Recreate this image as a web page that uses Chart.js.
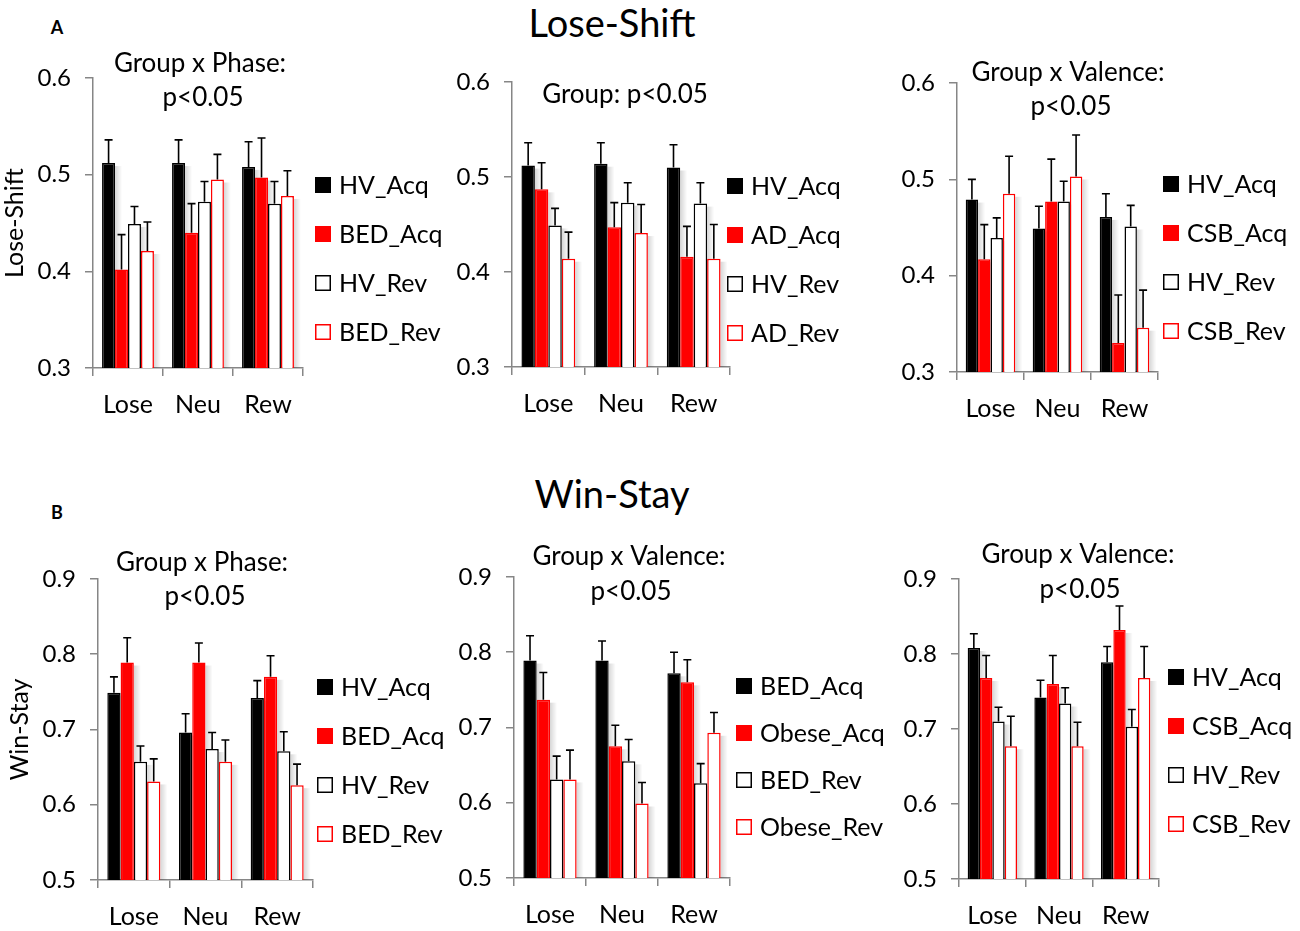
<!DOCTYPE html>
<html>
<head>
<meta charset="utf-8">
<script src="https://cdn.jsdelivr.net/npm/chart.js@4.4.1/dist/chart.umd.min.js"></script>
<style>
    body { margin: 0; background: #fff; width: 1300px; height: 931px; position: relative; overflow: hidden; font-family: Lato, sans-serif; }
    canvas { position: absolute; }
    .hdr { position: absolute; font-size: 38px; transform: translate(-50%, -50%); white-space: nowrap; color: #000; }
    .tag { position: absolute; font-size: 18px; font-weight: bold; transform: translate(-50%, -50%); color: #000; }
</style>
</head>
<body>
<div class="tag" style="left:57px;top:27px">A</div>
<div class="hdr" style="left:612px;top:22px">Lose-Shift</div>
<div class="tag" style="left:57px;top:512px">B</div>
<div class="hdr" style="left:612px;top:493px">Win-Stay</div>

<script>
// ---- data ----
const categories = ['Lose', 'Neu', 'Rew'];

const groupsBed = ['HV_Acq', 'BED_Acq', 'HV_Rev', 'BED_Rev'];
const groupsAd = ['HV_Acq', 'AD_Acq', 'HV_Rev', 'AD_Rev'];
const groupsCsb = ['HV_Acq', 'CSB_Acq', 'HV_Rev', 'CSB_Rev'];
const groupsObese = ['BED_Acq', 'Obese_Acq', 'BED_Rev', 'Obese_Rev'];

const loseShiftRange = [0.3, 0.6];
const winStayRange = [0.5, 0.9];

// Lose-Shift, BED vs HV
const lsBedMeans = [[0.512, 0.512, 0.508], [0.402, 0.440, 0.497], [0.449, 0.472, 0.470], [0.421, 0.495, 0.478]];
const lsBedErrors = [[0.024, 0.024, 0.026], [0.036, 0.030, 0.041], [0.018, 0.021, 0.023], [0.030, 0.026, 0.026]];
// Lose-Shift, AD vs HV
const lsAdMeans = [[0.512, 0.514, 0.510], [0.487, 0.447, 0.416], [0.449, 0.473, 0.472], [0.414, 0.441, 0.414]];
const lsAdErrors = [[0.024, 0.022, 0.024], [0.028, 0.026, 0.032], [0.018, 0.021, 0.022], [0.028, 0.030, 0.036]];
// Lose-Shift, CSB vs HV
const lsCsbMeans = [[0.479, 0.449, 0.461], [0.417, 0.477, 0.330], [0.439, 0.477, 0.451], [0.485, 0.503, 0.346]];
const lsCsbErrors = [[0.021, 0.023, 0.024], [0.036, 0.044, 0.050], [0.021, 0.021, 0.022], [0.039, 0.043, 0.039]];
// Win-Stay, BED vs HV
const wsBedMeans = [[0.749, 0.696, 0.742], [0.789, 0.789, 0.770], [0.657, 0.674, 0.671], [0.631, 0.657, 0.626]];
const wsBedErrors = [[0.021, 0.025, 0.023], [0.033, 0.026, 0.028], [0.021, 0.022, 0.026], [0.030, 0.029, 0.028]];
// Win-Stay, BED vs Obese
const wsObeseMeans = [[0.789, 0.789, 0.772], [0.737, 0.675, 0.760], [0.631, 0.655, 0.626], [0.631, 0.599, 0.693]];
const wsObeseErrors = [[0.033, 0.026, 0.028], [0.036, 0.028, 0.030], [0.031, 0.029, 0.026], [0.039, 0.028, 0.027]];
// Win-Stay, CSB vs HV
const wsCsbMeans = [[0.808, 0.742, 0.789], [0.768, 0.760, 0.832], [0.710, 0.734, 0.703], [0.677, 0.677, 0.768]];
const wsCsbErrors = [[0.019, 0.023, 0.021], [0.030, 0.038, 0.032], [0.019, 0.021, 0.023], [0.040, 0.032, 0.042]];

const notesBed = ['Group x Phase:', 'p<0.05'];
const notesAd = ['Group: p<0.05'];
const notesValence = ['Group x Valence:', 'p<0.05'];

// ---- styling ----
const fills = ['#000000', '#ff0000', '#ffffff', '#ffffff'];
const strokes = ['#000000', '#ff0000', '#000000', '#ff0000'];
const axisGrey = '#868686';

Chart.defaults.font.family = 'Lato, sans-serif';
Chart.defaults.color = '#000';

// thin upward error bars with a cap
const errorBars = {
    id: 'errorBars',
    afterDatasetsDraw(chart) {
        const {ctx} = chart;
        const y = chart.scales.y;
        ctx.save();
        ctx.strokeStyle = '#000';
        ctx.lineWidth = 1.6;
        chart.data.datasets.forEach((ds, i) => {
            chart.getDatasetMeta(i).data.forEach((bar, j) => {
                const top = y.getPixelForValue(ds.data[j] + ds.errors[j]);
                ctx.beginPath();
                ctx.moveTo(bar.x, bar.y);
                ctx.lineTo(bar.x, top);
                ctx.moveTo(bar.x - 4, top);
                ctx.lineTo(bar.x + 4, top);
                ctx.stroke();
            });
        });
        ctx.restore();
    }
};

// soft grey shading to the right of each bar, like the original figure
const barShade = {
    id: 'barShade',
    beforeDatasetsDraw(chart) {
        const {ctx, chartArea} = chart;
        ctx.save();
        chart.data.datasets.forEach((ds, i) => {
            chart.getDatasetMeta(i).data.forEach((bar) => {
                const right = bar.x + bar.width / 2;
                const g = ctx.createLinearGradient(right, 0, right + 7, 0);
                g.addColorStop(0, 'rgba(0,0,0,0.16)');
                g.addColorStop(1, 'rgba(0,0,0,0)');
                ctx.fillStyle = g;
                ctx.fillRect(right, bar.y + 3, 7, chartArea.bottom - bar.y - 3);
            });
        });
        ctx.restore();
    }
};

// legend boxes to the right and the statistics note above the bars
const sideLegend = {
    id: 'sideLegend',
    afterDraw(chart, args, opts) {
        const {ctx, chartArea} = chart;
        ctx.save();
        ctx.textBaseline = 'middle';
        ctx.font = '25px Lato, sans-serif';
        const x0 = chartArea.right + opts.dx;
        chart.data.datasets.forEach((ds, i) => {
            const cy = chartArea.top + opts.dy + i * opts.gap;
            ctx.fillStyle = ds.backgroundColor;
            ctx.fillRect(x0, cy - 8, 16, 16);
            ctx.strokeStyle = ds.borderColor;
            ctx.lineWidth = 1.5;
            ctx.strokeRect(x0 + 0.75, cy - 7.25, 14.5, 14.5);
            ctx.fillStyle = '#000';
            ctx.fillText(ds.label, x0 + 24, cy + 1);
        });
        ctx.font = '26px Lato, sans-serif';
        ctx.textAlign = 'center';
        opts.notes.forEach((t, k) => {
            ctx.fillText(t, opts.noteX[k], opts.noteY[k]);
        });
        ctx.restore();
    }
};

function makePanel(p) {
    const left = p.area[0] - 93, top = p.area[2] - 45;
    const w = p.area[1] - left + 170, h = p.area[3] - top + 75;
    const canvas = document.createElement('canvas');
    canvas.width = w;
    canvas.height = h;
    canvas.style.left = left + 'px';
    canvas.style.top = top + 'px';
    document.body.appendChild(canvas);

    const datasets = p.names.map((name, i) => ({
        label: name,
        data: p.means[i],
        errors: p.errors[i],
        backgroundColor: fills[i],
        borderColor: strokes[i],
        borderWidth: 1.5,
        borderSkipped: false,
        categoryPercentage: 0.74,
        barPercentage: 1.0
    }));

    new Chart(canvas, {
        type: 'bar',
        data: {labels: categories, datasets: datasets},
        options: {
            responsive: false,
            animation: false,
            layout: {padding: {left: 0, top: 45, right: 170, bottom: 25}},
            scales: {
                x: {
                    grid: {offset: true, drawOnChartArea: false, tickLength: 8, color: axisGrey, lineWidth: 1.5},
                    border: {color: axisGrey, width: 1.5},
                    ticks: {font: {size: 25}, padding: 14, color: '#000'},
                    afterFit: (s) => { s.height = 50; s.paddingLeft = 0; s.paddingRight = 0; }
                },
                y: {
                    min: p.range[0],
                    max: p.range[1],
                    grid: {drawOnChartArea: false, tickLength: 8, color: axisGrey, lineWidth: 1.5},
                    border: {color: axisGrey, width: 1.5},
                    ticks: {stepSize: 0.1, font: {size: 24}, padding: 14, color: '#000',
                        callback: (v) => v.toFixed(1)},
                    title: {display: !!p.yTitle, text: p.yTitle || '', font: {size: 25}, padding: 0, color: '#000'},
                    afterFit: (s) => { s.width = 93; s.paddingTop = 0; s.paddingBottom = 0; }
                }
            },
            plugins: {
                legend: {display: false},
                tooltip: {enabled: false},
                sideLegend: {
                    dx: p.legend[0], dy: p.legend[1], gap: p.legend[2],
                    notes: p.notes,
                    noteX: p.noteAt.map((a) => a[0] - left),
                    noteY: p.noteAt.map((a) => a[1] - top)
                }
            }
        },
        plugins: [barShade, errorBars, sideLegend]
    });
}

// plot area [left, right, top, bottom] and label placement, in page pixels
const panels = [
    {names: groupsBed, means: lsBedMeans, errors: lsBedErrors, range: loseShiftRange, yTitle: 'Lose-Shift',
        area: [93, 303, 78, 368], legend: [12, 107, 49], notes: notesBed, noteAt: [[200, 64], [203, 98]]},
    {names: groupsAd, means: lsAdMeans, errors: lsAdErrors, range: loseShiftRange,
        area: [512, 730, 82, 367], legend: [-3, 104, 49], notes: notesAd, noteAt: [[625, 95]]},
    {names: groupsCsb, means: lsCsbMeans, errors: lsCsbErrors, range: loseShiftRange,
        area: [957, 1158, 83, 372], legend: [5, 101, 49], notes: notesValence, noteAt: [[1068, 73], [1071, 107]]},
    {names: groupsBed, means: wsBedMeans, errors: wsBedErrors, range: winStayRange, yTitle: 'Win-Stay',
        area: [98, 313, 579, 880], legend: [4, 108, 49], notes: notesBed, noteAt: [[202, 563], [205, 597]]},
    {names: groupsObese, means: wsObeseMeans, errors: wsObeseErrors, range: winStayRange,
        area: [514, 730, 577, 878], legend: [6, 109, 47], notes: notesValence, noteAt: [[629, 557], [631, 592]]},
    {names: groupsCsb, means: wsCsbMeans, errors: wsCsbErrors, range: winStayRange,
        area: [959, 1159, 579, 879], legend: [9, 98, 49], notes: notesValence, noteAt: [[1078, 555], [1080, 590]]}
];

panels.forEach(makePanel);
</script>
</body>
</html>
